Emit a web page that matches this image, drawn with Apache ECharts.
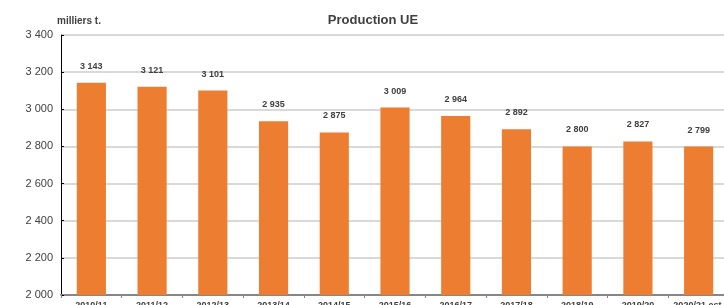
<!DOCTYPE html>
<html>
<head>
<meta charset="utf-8">
<script src="https://cdn.jsdelivr.net/npm/echarts@6/dist/echarts.min.js"></script>
<style>
    html, body { margin: 0; padding: 0; background: #fff; }
    #chart { width: 724px; height: 305px; }
</style>
</head>
<body>
<div id="chart"></div>
<script>
// campagnes
var campaigns = ['2010/11', '2011/12', '2012/13', '2013/14', '2014/15', '2015/16',
    '2016/17', '2017/18', '2018/19', '2019/20', '2020/21 est.'];
// production UE, milliers t.
var production = [3143, 3121, 3101, 2935, 2875, 3009, 2964, 2892, 2800, 2827, 2799];

function fmt(v) {
    var s = String(v);
    return s.length > 3 ? s.slice(0, s.length - 3) + ' ' + s.slice(-3) : s;
}

var myChart = echarts.init(document.getElementById('chart'));
var option = {
    animation: false,
    title: {
        text: 'Production UE',
        left: 368,
        textAlign: 'center',
        top: 9,
        textStyle: { fontFamily: 'Liberation Sans', fontSize: 13, fontWeight: 'bold', color: '#404040' }
    },
    grid: { left: 61, right: -5, top: 35, bottom: 10, containLabel: false, outerBoundsMode: 'none' },
    xAxis: {
        type: 'category',
        data: campaigns,
        axisLine: { lineStyle: { color: '#868686', width: 2 } },
        axisTick: { show: true, length: 3, lineStyle: { color: '#868686' } },
        axisLabel: { interval: 0, margin: 6, fontFamily: 'Liberation Sans', fontSize: 9, fontWeight: 'bold', color: '#404040' }
    },
    yAxis: {
        type: 'value',
        min: 2000,
        max: 3400,
        interval: 200,
        name: 'milliers t.',
        nameLocation: 'end',
        nameGap: 9,
        nameTextStyle: { fontFamily: 'Liberation Sans', fontSize: 10, fontWeight: 'bold', color: '#404040', align: 'left', padding: [0, 0, 0, -4] },
        axisLine: { show: true, lineStyle: { color: '#000', width: 1 } },
        axisTick: { show: true, length: 3, inside: true, lineStyle: { color: '#000' } },
        splitLine: { lineStyle: { color: '#d9d9d9', width: 2 } },
        axisLabel: {
            margin: 8,
            fontFamily: 'Liberation Sans', fontSize: 11, color: '#404040',
            formatter: function (v) { return fmt(v); }
        }
    },
    series: [{
        type: 'bar',
        data: production,
        barWidth: '48%',
        itemStyle: { color: '#ed7d31' },
        label: {
            show: true,
            position: 'top',
            distance: 12,
            fontFamily: 'Liberation Sans', fontSize: 9, fontWeight: 'bold', color: '#404040',
            formatter: function (p) { return fmt(p.value); }
        }
    }]
};
myChart.setOption(option);
</script>
</body>
</html>
